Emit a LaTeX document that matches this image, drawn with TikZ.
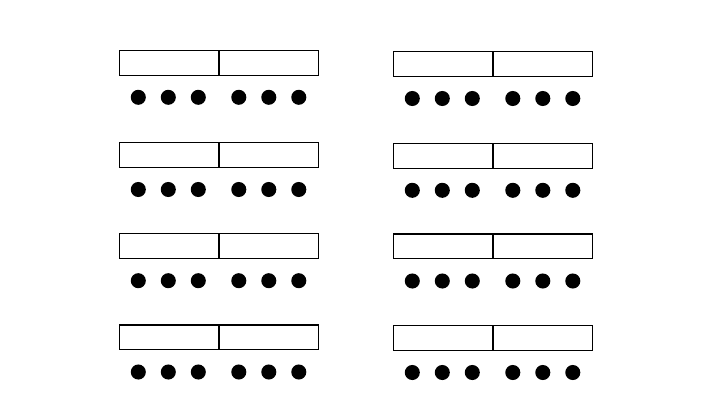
\documentclass[tikz,border=0pt]{standalone}
\begin{document}
\begin{tikzpicture}[x=0.75pt,y=-0.75pt,
  cell/.style={draw=black,line width=0.8pt,fill=white,minimum width=74.8pt,minimum height=18.6pt,inner sep=0pt,outer sep=0pt,anchor=north west},
  dot/.style={circle,fill=black,minimum size=11.3pt,inner sep=0pt,outer sep=0pt}]
\useasboundingbox[fill=white] (0,0) rectangle (712,400);
\foreach \c/\x/\tops in {L/119.3/{50.3,142.5,233.7,325}, R/393.3/{51.5,143.3,234,325.5}}{
  \foreach \t [count=\r] in \tops {
    \node[cell] (\c\r a) at (\x,\t) {};
    \node[cell] (\c\r b) at (\x+99.7,\t) {};
    \foreach \o [count=\k] in {19,49,79,119.5,149.5,179.5}{
      \node[dot] (\c\r d\k) at (\x+\o,\t+47) {};
    }
  }
}
\end{tikzpicture}
\end{document}
